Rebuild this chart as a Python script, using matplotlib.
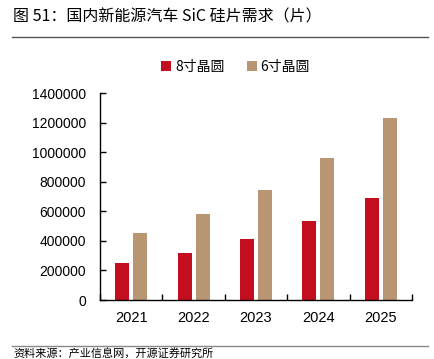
import numpy as np
import matplotlib.pyplot as plt
from matplotlib.lines import Line2D

plt.rcParams['font.family'] = ['Liberation Sans', 'Noto Sans CJK SC', 'DejaVu Sans']

years = ['2021', '2022', '2023', '2024', '2025']
wafer_8in = [250000, 320000, 415000, 535000, 690000]
wafer_6in = [450000, 580000, 745000, 960000, 1230000]
series_names = ['8寸晶圆', '6寸晶圆']
yticks = [0, 200000, 400000, 600000, 800000, 1000000, 1200000, 1400000]

RED = '#C20E1F'
TAN = '#B99672'

fig = plt.figure(figsize=(4.34, 3.59), dpi=100)
W, H = 434, 359
ax = fig.add_axes([100 / W, 1 - 300 / H, 312 / W, 207 / H])

x = np.arange(len(years))
bw = 0.225
ax.bar(x - 0.145, wafer_8in, bw, color=RED, label=series_names[0])
ax.bar(x + 0.145, wafer_6in, bw, color=TAN, label=series_names[1])

ax.set_xlim(-0.5, len(years) - 0.5)
ax.set_ylim(0, 1400000)
ax.set_yticks(yticks)
ax.set_yticklabels([str(v) for v in yticks], fontsize=10)
ax.set_xticks(x)
ax.set_xticklabels(years, fontsize=10.5)
ax.tick_params(axis='x', length=0, pad=8)
ax.set_xticks(np.arange(len(years) + 1) - 0.5, minor=True)
ax.tick_params(axis='x', which='minor', direction='in', length=4, width=1)
ax.tick_params(axis='y', direction='in', length=4, width=1, pad=10)
for s in ['top', 'right']:
    ax.spines[s].set_visible(False)
for s in ['left', 'bottom']:
    ax.spines[s].set_linewidth(1)

ax.legend(loc='upper center', bbox_to_anchor=(0.435, 1.22), ncol=2, frameon=False,
          handlelength=0.7, handleheight=0.7, handletextpad=0.3,
          columnspacing=1.6, prop={'family': ['Noto Sans CJK SC'], 'size': 10})

fig.text(13 / W, 1 - 17 / H, '图 51：国内新能源汽车 SiC 硅片需求（片）', fontsize=11.5,
         family=['Noto Sans CJK SC'], va='center', ha='left')
fig.add_artist(Line2D([12 / W, 428 / W], [1 - 37 / H, 1 - 37 / H], color='#555555', lw=1))
fig.add_artist(Line2D([12 / W, 428 / W], [1 - 346 / H, 1 - 346 / H], color='#888888', lw=1))
fig.text(13 / W, 1 - 358.5 / H, '资料来源：产业信息网，开源证券研究所', fontsize=8,
         family=['Noto Sans CJK SC'], va='bottom', ha='left')

fig.savefig('out.png', dpi=100)
